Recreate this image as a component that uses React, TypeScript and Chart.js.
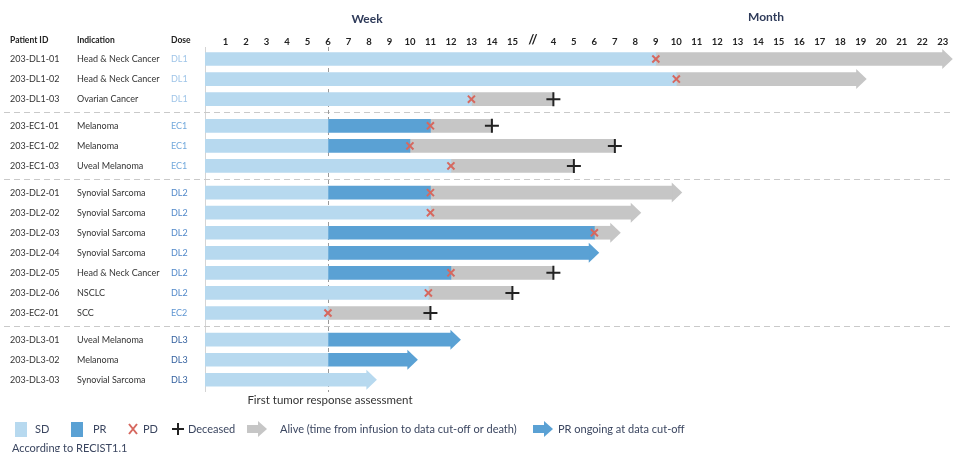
import { useEffect, useRef } from "react";
import { Chart, registerables } from "chart.js";
Chart.register(...registerables);

// ---- Data ----
const patientIds = [
  "203-DL1-01", "203-DL1-02", "203-DL1-03",
  "203-EC1-01", "203-EC1-02", "203-EC1-03",
  "203-DL2-01", "203-DL2-02", "203-DL2-03", "203-DL2-04", "203-DL2-05", "203-DL2-06", "203-EC2-01",
  "203-DL3-01", "203-DL3-02", "203-DL3-03",
];
const indications = [
  "Head & Neck Cancer", "Head & Neck Cancer", "Ovarian Cancer",
  "Melanoma", "Melanoma", "Uveal Melanoma",
  "Synovial Sarcoma", "Synovial Sarcoma", "Synovial Sarcoma", "Synovial Sarcoma", "Head & Neck Cancer", "NSCLC", "SCC",
  "Uveal Melanoma", "Melanoma", "Synovial Sarcoma",
];
const doses = ["DL1", "DL1", "DL1", "EC1", "EC1", "EC1", "DL2", "DL2", "DL2", "DL2", "DL2", "DL2", "EC2", "DL3", "DL3", "DL3"];
const groupOf = [0, 0, 0, 1, 1, 1, 2, 2, 2, 2, 2, 2, 2, 3, 3, 3];

// axis units: weeks 1..15, "//" = 16, months 4..23 = 17..36
const sdEnd = [22, 23, 13, 6, 6, 12, 6, 11, 6, 6, 6, 10.9, 6, 6, 6, 7.9];
const prEnd = [null, null, null, 11, 10, null, 11, null, 19, 18.75, 12, null, null, 12, 9.9, null];
const aliveEnd = [36, 31.8, 17, 14, 20, 18, 22.8, 20.8, 19.8, null, 17, 15, 11, null, null, null];
const ongoingArrow = [true, true, false, false, false, false, true, true, true, true, false, false, false, true, true, true];
const pdAt = [22, 23, 13, 11, 10, 12, 11, 11, 19, null, 12, 10.9, 6, null, null, null];
const deceasedAt = [null, null, 17, 14, 20, 18, null, null, null, null, 17, 15, 11, null, null, null];

const xTickValues = Array.from({ length: 36 }, (_, i) => i + 1);
const xTickLabels = [
  "1", "2", "3", "4", "5", "6", "7", "8", "9", "10", "11", "12", "13", "14", "15", "//",
  "4", "5", "6", "7", "8", "9", "10", "11", "12", "13", "14", "15", "16", "17", "18", "19", "20", "21", "22", "23",
];
const firstAssessmentWeek = 6;

// ---- Styles ----
const SD_COLOR = "#b7d9ef";
const PR_COLOR = "#5aa1d4";
const ALIVE_COLOR = "#c6c6c6";
const PD_COLOR = "#d6685f";
const DEC_COLOR = "#222222";
const doseColors: Record<string, string> = {
  DL1: "#9fc5e8", EC1: "#73a9dc", DL2: "#5289c9", EC2: "#5f96d2", DL3: "#34619f",
};
const FONT = "Lato, 'Open Sans', sans-serif";
const GROUP_GAP = 0.33;

const rowPos = groupOf.map((g, i) => i + g * GROUP_GAP);

export default function App() {
  const ref = useRef<HTMLCanvasElement | null>(null);

  useEffect(() => {
    if (!ref.current) return;
    const n = patientIds.length;

    const sdData: any[] = [];
    const prData: any[] = [];
    const aliveData: any[] = [];
    const pdData: any[] = [];
    const decData: any[] = [];
    for (let i = 0; i < n; i++) {
      const y = rowPos[i];
      const hasPr = prEnd[i] != null;
      const hasAlive = aliveEnd[i] != null;
      sdData.push({ x: [0, sdEnd[i]], y, arrow: ongoingArrow[i] && !hasPr && !hasAlive });
      if (hasPr) prData.push({ x: [sdEnd[i], prEnd[i]], y, arrow: ongoingArrow[i] && !hasAlive });
      if (hasAlive) {
        const start = hasPr ? (prEnd[i] as number) : sdEnd[i];
        aliveData.push({ x: [start, aliveEnd[i]], y, arrow: ongoingArrow[i] });
      }
      if (pdAt[i] != null) pdData.push({ x: pdAt[i], y });
      if (deceasedAt[i] != null) decData.push({ x: deceasedAt[i], y });
    }

    const decorPlugin = {
      id: "decor",
      beforeDatasetsDraw(chart: any) {
        const ctx = chart.ctx;
        const xs = chart.scales.x;
        const ys = chart.scales.y;
        const area = chart.chartArea;
        ctx.save();
        // left border
        ctx.strokeStyle = "#d4d4d4";
        ctx.lineWidth = 1;
        ctx.beginPath();
        ctx.moveTo(area.left + 0.5, area.top);
        ctx.lineTo(area.left + 0.5, area.bottom);
        ctx.stroke();
        // group separators
        ctx.setLineDash([6, 4]);
        ctx.strokeStyle = "#c9c9c9";
        for (let i = 0; i < n - 1; i++) {
          if (groupOf[i] !== groupOf[i + 1]) {
            const yy = Math.round(ys.getPixelForValue((rowPos[i] + rowPos[i + 1]) / 2)) + 0.5;
            ctx.beginPath();
            ctx.moveTo(4, yy);
            ctx.lineTo(952, yy);
            ctx.stroke();
          }
        }
        // first assessment line
        ctx.setLineDash([4, 3]);
        ctx.strokeStyle = "#9a9a9a";
        const x6 = Math.round(xs.getPixelForValue(firstAssessmentWeek)) + 0.5;
        ctx.beginPath();
        ctx.moveTo(x6, area.top);
        ctx.lineTo(x6, area.bottom);
        ctx.stroke();
        ctx.setLineDash([]);

        // arrow heads
        chart.data.datasets.forEach((ds: any, di: number) => {
          if (ds.type === "scatter") return;
          const meta = chart.getDatasetMeta(di);
          meta.data.forEach((el: any, j: number) => {
            if (!ds.data[j].arrow) return;
            const ex = el.x;
            const ey = el.y;
            ctx.fillStyle = ds.backgroundColor;
            ctx.beginPath();
            ctx.moveTo(ex - 0.5, ey - 10);
            ctx.lineTo(ex + 10, ey);
            ctx.lineTo(ex - 0.5, ey + 10);
            ctx.closePath();
            ctx.fill();
          });
        });
        ctx.restore();
      },
      afterDraw(chart: any) {
        const ctx = chart.ctx;
        const xs = chart.scales.x;
        const ys = chart.scales.y;
        ctx.save();
        ctx.textBaseline = "middle";
        // titles
        ctx.fillStyle = "#2f3b5a";
        ctx.font = `bold 12px ${FONT}`;
        ctx.textAlign = "center";
        ctx.fillText("Week", 367, 19);
        ctx.fillText("Month", 766, 17);
        // x tick labels (positions from the x scale)
        ctx.fillStyle = "#222";
        xTickValues.forEach((v, k) => {
          const label = xTickLabels[k];
          const px = xs.getPixelForValue(v);
          if (label === "//") {
            ctx.font = `bold 13px ${FONT}`;
            ctx.fillText(label, px, 40);
          } else {
            ctx.font = `bold 9.5px ${FONT}`;
            ctx.fillText(label, px, 42);
          }
        });
        // table header
        ctx.textAlign = "left";
        ctx.fillStyle = "#222";
        ctx.font = `bold 8.5px ${FONT}`;
        ctx.fillText("Patient ID", 10, 40);
        ctx.fillText("Indication", 77, 40);
        ctx.fillText("Dose", 171, 40);
        // rows
        for (let i = 0; i < n; i++) {
          const yy = ys.getPixelForValue(rowPos[i]);
          ctx.font = `9px ${FONT}`;
          ctx.fillStyle = "#333";
          ctx.fillText(patientIds[i], 10, yy);
          ctx.fillText(indications[i], 77, yy);
          ctx.fillStyle = doseColors[doses[i]] || "#5b9bd5";
          ctx.fillText(doses[i], 171, yy);
        }
        // first tumor response text
        ctx.fillStyle = "#333";
        ctx.font = `11.5px ${FONT}`;
        ctx.textAlign = "center";
        ctx.fillText("First tumor response assessment", xs.getPixelForValue(firstAssessmentWeek) + 2, 400);

        // legend
        const ly = 429;
        ctx.textAlign = "left";
        ctx.font = `11px ${FONT}`;
        const txt = "#3b4660";
        ctx.fillStyle = SD_COLOR;
        ctx.fillRect(15, 422, 12, 15);
        ctx.fillStyle = txt;
        ctx.fillText("SD", 35, ly);
        ctx.fillStyle = PR_COLOR;
        ctx.fillRect(71, 422, 12, 15);
        ctx.fillStyle = txt;
        ctx.fillText("PR", 93, ly);
        // X
        ctx.strokeStyle = PD_COLOR;
        ctx.lineWidth = 2;
        ctx.beginPath();
        ctx.moveTo(129, ly - 5); ctx.lineTo(137, ly + 5);
        ctx.moveTo(137, ly - 5); ctx.lineTo(129, ly + 5);
        ctx.stroke();
        ctx.fillStyle = txt;
        ctx.fillText("PD", 143, ly);
        // +
        ctx.strokeStyle = DEC_COLOR;
        ctx.lineWidth = 2;
        ctx.beginPath();
        ctx.moveTo(172, ly); ctx.lineTo(184, ly);
        ctx.moveTo(178, ly - 6); ctx.lineTo(178, ly + 6);
        ctx.stroke();
        ctx.fillStyle = txt;
        ctx.fillText("Deceased", 188, ly);
        const drawArrow = (x0: number, color: string) => {
          ctx.fillStyle = color;
          ctx.fillRect(x0, ly - 4, 11, 8);
          ctx.beginPath();
          ctx.moveTo(x0 + 11, ly - 8);
          ctx.lineTo(x0 + 20, ly);
          ctx.lineTo(x0 + 11, ly + 8);
          ctx.closePath();
          ctx.fill();
        };
        drawArrow(247, ALIVE_COLOR);
        ctx.fillStyle = txt;
        ctx.fillText("Alive (time from infusion to data cut-off or death)", 280, ly);
        drawArrow(533, PR_COLOR);
        ctx.fillStyle = txt;
        ctx.fillText("PR ongoing at data cut-off", 558, ly);
        ctx.fillText("According to RECIST1.1", 12, 448);
        ctx.restore();
      },
    };

    const barCommon = {
      indexAxis: "y" as const,
      grouped: false,
      barThickness: 13,
      borderWidth: 0,
      borderSkipped: false,
      order: 2,
    };

    const chart = new Chart(ref.current, {
      type: "bar",
      data: {
        datasets: [
          { type: "scatter", label: "PD", data: pdData, pointStyle: "crossRot", radius: 5, borderColor: PD_COLOR, backgroundColor: PD_COLOR, borderWidth: 2, order: 0 } as any,
          { type: "scatter", label: "Deceased", data: decData, pointStyle: "cross", radius: 7, borderColor: DEC_COLOR, backgroundColor: DEC_COLOR, borderWidth: 2, order: 0 } as any,
          { ...barCommon, label: "SD", data: sdData, backgroundColor: SD_COLOR } as any,
          { ...barCommon, label: "PR", data: prData, backgroundColor: PR_COLOR } as any,
          { ...barCommon, label: "Alive", data: aliveData, backgroundColor: ALIVE_COLOR } as any,
        ],
      },
      options: {
        responsive: false,
        animation: false,
        events: [],
        layout: { padding: { left: 205, right: 0, top: 47, bottom: 60 } },
        plugins: { legend: { display: false }, tooltip: { enabled: false } },
        scales: {
          x: {
            type: "linear",
            display: false,
            offset: false,
            beginAtZero: false,
            min: 0,
            max: 36.5,
            grid: { display: false, offset: false },
          },
          y: {
            type: "linear",
            reverse: true,
            offset: false,
            beginAtZero: false,
            min: -0.6,
            max: 16.6,
            display: false,
            grid: { offset: false },
          },
        },
      } as any,
      plugins: [decorPlugin],
    });
    return () => chart.destroy();
  }, []);

  return (
    <div style={{ position: "fixed", left: 0, top: 0, width: 962, height: 452, background: "#fff" }}>
      <canvas ref={ref} width={962} height={452} style={{ display: "block" }} />
    </div>
  );
}
